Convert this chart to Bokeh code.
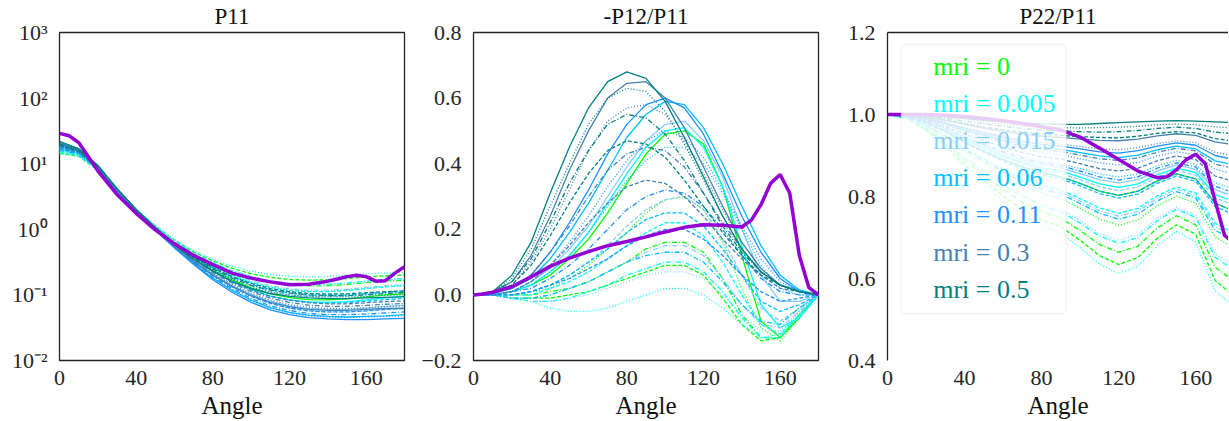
from bokeh.plotting import figure
from bokeh.layouts import row
from bokeh.models import (Range1d, FixedTicker, CustomJSTickFormatter, BoxAnnotation,
                          Label, LinearAxis)
from bokeh.embed import file_html
from bokeh.resources import INLINE

# ---------------- data ----------------
ANGLES = [0, 10, 20, 30, 40, 50, 60, 70, 80, 90, 100, 110, 120, 130, 140, 150, 160, 170, 180]
PURPLE_ANGLES = [0, 5, 10, 20, 30, 40, 50, 60, 70, 80, 90, 100, 110, 120, 130, 140, 145, 150,
                 155, 160, 165, 170, 175, 180]

MRI_LABELS = ["mri = 0", "mri = 0.005", "mri = 0.015", "mri = 0.06", "mri = 0.11",
              "mri = 0.3", "mri = 0.5"]
MRI_COLORS = ["lime", "cyan", "lightskyblue", "deepskyblue", "dodgerblue", "steelblue", "teal"]
# each mri has 4 cases: solid, dotted, dashdot, dashed
CASE_DASHES = ["solid", "1 2", "5 2 1 2", "4 2"]

TITLES = ["P11", "-P12/P11", "P22/P11"]
X_LABEL = "Angle"
X_TICKS = [0, 40, 80, 120, 160]
P11_TICKS = [0.01, 0.1, 1, 10, 100, 1000]
P12_TICKS = [-0.2, 0.0, 0.2, 0.4, 0.6, 0.8]
P22_TICKS = [0.4, 0.6, 0.8, 1.0, 1.2]

# ---- P11 ----
P11_M0 = [
    [17, 14.5, 8.5, 3.9, 1.95, 1.04, 0.59, 0.36, 0.24, 0.17, 0.128, 0.104, 0.091, 0.085, 0.084, 0.087, 0.093, 0.1, 0.104],
    [16, 14, 8.3, 3.9, 1.97, 1.07, 0.62, 0.39, 0.27, 0.2, 0.157, 0.132, 0.119, 0.113, 0.113, 0.118, 0.126, 0.134, 0.139],
    [15, 13.5, 8.1, 3.9, 2.0, 1.1, 0.65, 0.42, 0.3, 0.225, 0.18, 0.155, 0.142, 0.137, 0.138, 0.144, 0.154, 0.163, 0.168],
    [14.5, 13, 8.0, 3.9, 2.0, 1.12, 0.68, 0.45, 0.33, 0.255, 0.21, 0.185, 0.172, 0.168, 0.17, 0.177, 0.187, 0.196, 0.2],
]
P11_M005 = [
    [17, 14.5, 8.5, 3.9, 1.94, 1.03, 0.58, 0.35, 0.23, 0.16, 0.12, 0.096, 0.084, 0.078, 0.077, 0.079, 0.084, 0.09, 0.094],
    [14, 13, 7.9, 3.9, 2.02, 1.13, 0.7, 0.47, 0.35, 0.275, 0.23, 0.205, 0.192, 0.188, 0.19, 0.198, 0.208, 0.215, 0.22],
    [15, 13.5, 8.1, 3.9, 2.0, 1.1, 0.66, 0.43, 0.31, 0.235, 0.19, 0.163, 0.15, 0.145, 0.146, 0.152, 0.162, 0.172, 0.178],
    [16, 14, 8.3, 3.9, 1.97, 1.07, 0.62, 0.39, 0.27, 0.2, 0.155, 0.13, 0.117, 0.112, 0.112, 0.117, 0.125, 0.133, 0.138],
]
P11_M015 = [
    [18, 15, 8.7, 3.9, 1.93, 1.01, 0.56, 0.33, 0.21, 0.14, 0.102, 0.08, 0.068, 0.062, 0.06, 0.06, 0.063, 0.067, 0.07],
    [15, 13.5, 8.1, 3.9, 2.0, 1.1, 0.66, 0.43, 0.31, 0.235, 0.19, 0.163, 0.148, 0.142, 0.142, 0.148, 0.158, 0.168, 0.175],
    [16, 14, 8.3, 3.9, 1.98, 1.08, 0.63, 0.40, 0.28, 0.21, 0.165, 0.138, 0.124, 0.118, 0.118, 0.122, 0.13, 0.138, 0.143],
    [17, 14.5, 8.5, 3.9, 1.96, 1.05, 0.6, 0.37, 0.25, 0.18, 0.138, 0.113, 0.1, 0.094, 0.093, 0.096, 0.102, 0.108, 0.112],
]
P11_M06 = [
    [19, 15.5, 8.9, 3.9, 1.9, 0.98, 0.53, 0.30, 0.18, 0.118, 0.083, 0.064, 0.054, 0.049, 0.047, 0.046, 0.047, 0.048, 0.05],
    [18, 15, 8.7, 3.9, 1.93, 1.0, 0.55, 0.32, 0.2, 0.132, 0.095, 0.074, 0.063, 0.057, 0.055, 0.055, 0.057, 0.06, 0.062],
    [16, 14, 8.3, 3.9, 1.97, 1.06, 0.61, 0.38, 0.26, 0.19, 0.145, 0.12, 0.107, 0.1, 0.098, 0.1, 0.105, 0.11, 0.115],
    [17, 14.5, 8.5, 3.9, 1.95, 1.03, 0.58, 0.35, 0.23, 0.16, 0.118, 0.095, 0.083, 0.077, 0.075, 0.076, 0.08, 0.085, 0.088],
]
P11_M11 = [
    [20, 16, 9.0, 3.9, 1.9, 0.97, 0.52, 0.29, 0.17, 0.11, 0.077, 0.059, 0.05, 0.045, 0.043, 0.042, 0.042, 0.043, 0.044],
    [19, 15.5, 8.9, 3.9, 1.9, 0.98, 0.53, 0.30, 0.18, 0.117, 0.082, 0.063, 0.053, 0.048, 0.046, 0.045, 0.046, 0.047, 0.048],
    [18, 15, 8.7, 3.9, 1.92, 1.0, 0.54, 0.31, 0.19, 0.125, 0.088, 0.068, 0.058, 0.052, 0.05, 0.05, 0.051, 0.053, 0.055],
    [17, 14.5, 8.5, 3.9, 1.94, 1.01, 0.56, 0.32, 0.2, 0.133, 0.095, 0.074, 0.063, 0.057, 0.055, 0.055, 0.057, 0.06, 0.062],
]
P11_M3 = [
    [21, 16.5, 9.2, 4.0, 1.95, 1.0, 0.55, 0.32, 0.2, 0.135, 0.098, 0.077, 0.066, 0.06, 0.058, 0.058, 0.06, 0.062, 0.063],
    [20, 16, 9.1, 4.0, 1.95, 1.02, 0.56, 0.33, 0.21, 0.145, 0.105, 0.083, 0.071, 0.065, 0.062, 0.062, 0.064, 0.066, 0.068],
    [19, 15.5, 9.0, 4.0, 1.97, 1.03, 0.57, 0.34, 0.22, 0.152, 0.112, 0.089, 0.077, 0.07, 0.067, 0.067, 0.069, 0.072, 0.074],
    [18, 15, 8.8, 4.0, 1.98, 1.04, 0.58, 0.35, 0.23, 0.16, 0.12, 0.096, 0.083, 0.076, 0.073, 0.073, 0.076, 0.079, 0.081],
]
P11_M5 = [
    [22, 17, 9.5, 4.2, 2.0, 1.05, 0.58, 0.35, 0.23, 0.16, 0.125, 0.105, 0.095, 0.09, 0.088, 0.088, 0.09, 0.092, 0.094],
    [21, 16.5, 9.3, 4.1, 2.0, 1.05, 0.59, 0.36, 0.24, 0.17, 0.13, 0.11, 0.10, 0.095, 0.093, 0.093, 0.095, 0.098, 0.10],
    [20, 16, 9.2, 4.1, 2.0, 1.06, 0.60, 0.37, 0.25, 0.18, 0.14, 0.118, 0.107, 0.10, 0.098, 0.098, 0.10, 0.105, 0.108],
    [19, 15.5, 9.0, 4.1, 2.0, 1.07, 0.61, 0.38, 0.26, 0.19, 0.15, 0.125, 0.112, 0.105, 0.103, 0.104, 0.108, 0.112, 0.115],
]
P11_PURPLE = [29, 26.7, 21, 7.8, 3.4, 1.75, 0.98, 0.6, 0.4, 0.29, 0.215, 0.18, 0.158, 0.143, 0.145,
              0.162, 0.175, 0.19, 0.2, 0.19, 0.162, 0.165, 0.215, 0.27]

# ---- -P12/P11 ----
P12_M0 = [
    [0, 0, 0.01, 0.03, 0.06, 0.11, 0.17, 0.25, 0.34, 0.43, 0.49, 0.50, 0.46, 0.33, 0.12, -0.08, -0.13, -0.07, 0],
    [0, 0, 0, 0.01, 0.02, 0.05, 0.09, 0.14, 0.19, 0.25, 0.29, 0.30, 0.26, 0.16, 0.02, -0.10, -0.14, -0.07, 0],
    [0, 0, 0, 0, 0.01, 0.02, 0.04, 0.07, 0.10, 0.14, 0.16, 0.16, 0.13, 0.05, -0.06, -0.13, -0.13, -0.06, 0],
    [0, 0, -0.01, -0.01, -0.01, 0, 0.01, 0.03, 0.05, 0.07, 0.09, 0.09, 0.06, -0.01, -0.09, -0.14, -0.13, -0.06, 0],
]
P12_M005 = [
    [0, 0, 0.01, 0.03, 0.07, 0.12, 0.19, 0.28, 0.37, 0.45, 0.50, 0.51, 0.45, 0.33, 0.15, -0.03, -0.1, -0.07, 0],
    [0, 0, -0.01, -0.02, -0.04, -0.05, -0.05, -0.04, -0.02, 0.0, 0.02, 0.02, 0.0, -0.04, -0.09, -0.13, -0.12, -0.05, 0],
    [0, 0, -0.01, -0.02, -0.02, -0.01, 0.01, 0.03, 0.06, 0.08, 0.10, 0.10, 0.07, 0.01, -0.07, -0.13, -0.13, -0.06, 0],
    [0, 0, 0, 0.0, 0.02, 0.04, 0.07, 0.11, 0.15, 0.19, 0.22, 0.22, 0.18, 0.10, 0.0, -0.09, -0.12, -0.06, 0],
]
P12_M015 = [
    [0, 0, 0.01, 0.04, 0.08, 0.14, 0.21, 0.30, 0.39, 0.47, 0.52, 0.53, 0.47, 0.36, 0.20, 0.06, -0.02, -0.02, 0],
    [0, 0, -0.01, -0.02, -0.02, -0.01, 0.0, 0.02, 0.04, 0.06, 0.07, 0.07, 0.05, 0.0, -0.06, -0.11, -0.11, -0.05, 0],
    [0, 0, -0.01, -0.01, 0, 0.02, 0.04, 0.07, 0.10, 0.13, 0.15, 0.15, 0.12, 0.05, -0.03, -0.09, -0.10, -0.05, 0],
    [0, 0, 0, 0.01, 0.03, 0.06, 0.10, 0.15, 0.21, 0.26, 0.29, 0.30, 0.26, 0.17, 0.06, -0.04, -0.08, -0.04, 0],
]
P12_M06 = [
    [0, 0.005, 0.02, 0.05, 0.11, 0.19, 0.28, 0.38, 0.48, 0.55, 0.59, 0.58, 0.51, 0.40, 0.27, 0.15, 0.06, 0.015, 0],
    [0, 0, 0.01, 0.03, 0.07, 0.12, 0.19, 0.27, 0.35, 0.41, 0.45, 0.45, 0.40, 0.31, 0.20, 0.09, 0.02, 0, 0],
    [0, 0, -0.01, -0.01, 0, 0.02, 0.04, 0.07, 0.10, 0.12, 0.13, 0.13, 0.10, 0.04, -0.03, -0.08, -0.09, -0.04, 0],
    [0, 0, 0, 0.01, 0.03, 0.06, 0.10, 0.14, 0.19, 0.23, 0.25, 0.25, 0.21, 0.14, 0.06, -0.02, -0.05, -0.03, 0],
]
P12_M11 = [
    [0, 0.005, 0.02, 0.06, 0.13, 0.22, 0.32, 0.43, 0.52, 0.58, 0.60, 0.57, 0.49, 0.37, 0.24, 0.13, 0.05, 0.01, 0],
    [0, 0, 0.01, 0.04, 0.09, 0.16, 0.24, 0.33, 0.41, 0.47, 0.50, 0.48, 0.42, 0.32, 0.21, 0.11, 0.04, 0.01, 0],
    [0, 0, 0.01, 0.02, 0.05, 0.09, 0.14, 0.20, 0.26, 0.30, 0.32, 0.31, 0.27, 0.20, 0.12, 0.05, 0.01, 0, 0],
    [0, 0, 0, 0.01, 0.03, 0.05, 0.08, 0.11, 0.15, 0.18, 0.20, 0.20, 0.17, 0.12, 0.06, 0.01, -0.02, -0.01, 0],
]
P12_M3 = [
    [0, 0.01, 0.04, 0.12, 0.24, 0.38, 0.50, 0.60, 0.645, 0.65, 0.60, 0.51, 0.39, 0.27, 0.16, 0.08, 0.03, 0.01, 0],
    [0, 0.01, 0.03, 0.10, 0.20, 0.32, 0.44, 0.53, 0.57, 0.58, 0.55, 0.47, 0.37, 0.26, 0.16, 0.08, 0.03, 0.01, 0],
    [0, 0.01, 0.02, 0.06, 0.13, 0.21, 0.30, 0.38, 0.43, 0.45, 0.44, 0.39, 0.31, 0.22, 0.14, 0.07, 0.03, 0.01, 0],
    [0, 0, 0.01, 0.04, 0.09, 0.15, 0.22, 0.28, 0.33, 0.35, 0.34, 0.30, 0.24, 0.17, 0.11, 0.06, 0.02, 0.01, 0],
]
P12_M5 = [
    [0, 0.01, 0.06, 0.16, 0.31, 0.45, 0.57, 0.65, 0.68, 0.66, 0.59, 0.48, 0.36, 0.24, 0.14, 0.07, 0.03, 0.01, 0],
    [0, 0.01, 0.05, 0.14, 0.27, 0.40, 0.52, 0.60, 0.63, 0.62, 0.56, 0.46, 0.35, 0.24, 0.14, 0.07, 0.03, 0.01, 0],
    [0, 0.01, 0.04, 0.11, 0.22, 0.34, 0.44, 0.52, 0.55, 0.54, 0.49, 0.41, 0.31, 0.21, 0.13, 0.07, 0.03, 0.01, 0],
    [0, 0.01, 0.03, 0.09, 0.18, 0.28, 0.37, 0.44, 0.47, 0.46, 0.42, 0.35, 0.27, 0.19, 0.12, 0.06, 0.03, 0.01, 0],
]
P12_PURPLE = [0, 0.003, 0.008, 0.025, 0.055, 0.087, 0.112, 0.132, 0.15, 0.163, 0.177, 0.192, 0.206,
              0.214, 0.212, 0.207, 0.228, 0.275, 0.34, 0.367, 0.31, 0.12, 0.022, 0]

# ---- P22/P11 ----
P22_M0 = [
    [1, .995, .980, .959, .932, .911, .890, .872, .858, .848, .832, .813, .803, .813, .838, .855, .843, .784, .764],
    [1, .993, .972, .944, .908, .880, .851, .827, .808, .795, .771, .745, .730, .743, .777, .801, .784, .702, .674],
    [1, .991, .965, .931, .887, .852, .817, .786, .763, .747, .717, .683, .664, .679, .723, .753, .731, .628, .593],
    [1, .991, .962, .925, .877, .839, .802, .768, .743, .726, .693, .656, .634, .651, .698, .731, .708, .595, .557],
]
P22_M005 = [
    [1, .996, .982, .963, .938, .919, .899, .883, .870, .862, .847, .831, .822, .831, .853, .869, .858, .805, .787],
    [1, .99, .96, .92, .87, .83, .79, .755, .728, .71, .675, .635, .612, .63, .68, .715, .69, .57, .53],
    [1, .992, .968, .935, .894, .861, .828, .800, .778, .763, .735, .704, .686, .700, .741, .769, .749, .652, .620],
    [1, .994, .975, .950, .918, .892, .867, .845, .828, .816, .795, .772, .759, .771, .802, .823, .808, .735, .710],
]
P22_M015 = [
    [1, .996, .983, .965, .942, .924, .905, .889, .877, .870, .856, .841, .833, .841, .862, .877, .866, .817, .800],
    [1, .992, .968, .937, .896, .864, .832, .804, .783, .769, .741, .710, .693, .707, .747, .774, .755, .661, .629],
    [1, .994, .974, .949, .916, .889, .863, .840, .823, .811, .789, .765, .752, .764, .796, .818, .802, .727, .701],
    [1, .996, .981, .961, .936, .916, .896, .878, .865, .856, .841, .824, .814, .824, .847, .864, .852, .797, .778],
]
P22_M06 = [
    [1, .998, .989, .978, .962, .950, .938, .928, .920, .915, .907, .899, .895, .901, .914, .923, .916, .887, .877],
    [1, .996, .984, .968, .947, .930, .913, .898, .887, .880, .868, .855, .848, .855, .875, .888, .878, .834, .818],
    [1, .994, .974, .947, .913, .886, .859, .836, .818, .806, .783, .759, .745, .757, .789, .812, .796, .718, .692],
    [1, .995, .979, .958, .930, .908, .886, .867, .853, .843, .826, .807, .796, .806, .832, .850, .837, .776, .755],
]
P22_M11 = [
    [1, .998, .990, .980, .966, .955, .944, .934, .927, .923, .916, .909, .906, .912, .923, .931, .925, .900, .890],
    [1, .997, .987, .974, .956, .942, .928, .916, .907, .902, .892, .882, .877, .883, .899, .909, .902, .867, .854],
    [1, .996, .984, .967, .944, .927, .909, .894, .882, .875, .862, .848, .840, .848, .869, .882, .872, .825, .809],
    [1, .995, .980, .959, .932, .911, .890, .872, .858, .848, .832, .813, .803, .813, .838, .855, .843, .784, .764],
]
P22_M3 = [
    [1, .999, .993, .986, .976, .967, .959, .952, .947, .944, .940, .937, .936, .940, .948, .953, .949, .933, .926],
    [1, .998, .991, .982, .968, .958, .947, .939, .932, .928, .922, .916, .914, .919, .929, .936, .931, .908, .899],
    [1, .998, .989, .976, .960, .947, .934, .923, .915, .910, .901, .892, .888, .894, .908, .918, .911, .879, .868],
    [1, .997, .986, .971, .952, .936, .921, .907, .897, .891, .880, .868, .862, .869, .887, .899, .890, .850, .836],
]
P22_M5 = [
    [1, 1, .998, .995, .990, .986, .982, .979, .977, .976, .976, .978, .980, .982, .984, .985, .984, .982, .980],
    [1, 1.0, .997, .993, .986, .981, .976, .972, .970, .968, .967, .968, .969, .971, .975, .977, .975, .970, .967],
    [1, .999, .996, .991, .983, .977, .971, .966, .962, .960, .958, .957, .958, .961, .966, .969, .966, .957, .953],
    [1, .999, .994, .988, .978, .970, .963, .957, .952, .949, .946, .944, .943, .947, .954, .958, .955, .941, .935],
]
P22_PURPLE = [1.0, 1.0, 1.0, 1.0, 0.998, 0.995, 0.99, 0.985, 0.978, 0.97, 0.962, 0.945, 0.918, 0.89,
              0.862, 0.846, 0.848, 0.865, 0.89, 0.903, 0.88, 0.79, 0.705, 0.685]

P11_ALL = [P11_M0, P11_M005, P11_M015, P11_M06, P11_M11, P11_M3, P11_M5]
P12_ALL = [P12_M0, P12_M005, P12_M015, P12_M06, P12_M11, P12_M3, P12_M5]
P22_ALL = [P22_M0, P22_M005, P22_M015, P22_M06, P22_M11, P22_M3, P22_M5]

# ---------------- styling / layout ----------------
FONT = "Liberation Serif"
DARK = "#262626"
PURPLE = "darkviolet"


def make_fig(title, y_range, y_type="linear", x_end=180, fw=345, right=10, top_line=False):
    p = figure(frame_width=fw, frame_height=328, x_range=Range1d(0, x_end), y_range=y_range,
               y_axis_type=y_type, output_backend="svg", toolbar_location=None,
               min_border_left=59, min_border_right=right, min_border_top=32,
               min_border_bottom=61)
    p.grid.visible = False
    p.outline_line_color = DARK
    p.outline_line_width = 1.3
    p.background_fill_color = "white"
    p.border_fill_color = "white"
    for ax in p.axis:
        ax.axis_line_color = None
        ax.major_tick_line_color = None
        ax.minor_tick_line_color = None
        ax.major_label_text_font = FONT
        ax.major_label_text_font_size = "22px"
        ax.major_label_text_color = DARK
    p.xaxis.ticker = FixedTicker(ticks=X_TICKS)
    p.xaxis.major_label_standoff = 4
    p.yaxis.major_label_standoff = 6
    p.xaxis.axis_label = X_LABEL
    p.xaxis.axis_label_text_font = FONT
    p.xaxis.axis_label_text_font_size = "25px"
    p.xaxis.axis_label_text_font_style = "normal"
    p.xaxis.axis_label_text_color = "#111111"
    p.xaxis.axis_label_standoff = 4
    # title drawn as the label of an empty axis above the frame
    top_ax = LinearAxis(ticker=FixedTicker(ticks=[]), major_tick_line_color=None,
                        minor_tick_line_color=None, major_label_standoff=0,
                        axis_line_color=DARK if top_line else None, axis_line_width=1.3,
                        axis_label=title, axis_label_text_font=FONT,
                        axis_label_text_font_size="23px", axis_label_text_font_style="normal",
                        axis_label_text_color="#111111", axis_label_standoff=4)
    p.add_layout(top_ax, "above")
    return p


def draw_cases(p, all_vals):
    for color, cases in zip(MRI_COLORS, all_vals):
        for dash, vals in zip(CASE_DASHES, cases):
            p.line(ANGLES, vals, line_color=color, line_width=1.3, line_dash=dash)


one_dec = CustomJSTickFormatter(code="""
    return tick < -1e-9 ? "\u2212" + (-tick).toFixed(1) : Math.abs(tick).toFixed(1);
""")

# Panel 1: P11 (log)
p1 = make_fig(TITLES[0], Range1d(0.01, 1000), y_type="log")
p1.yaxis.ticker = FixedTicker(ticks=P11_TICKS)
p1.yaxis.formatter = CustomJSTickFormatter(code="""
    const e = Math.round(Math.log10(tick));
    const sup = {"-": "\u207b", "0": "\u2070", "1": "\u00b9", "2": "\u00b2", "3": "\u00b3"};
    return "10" + String(e).split("").map(c => sup[c]).join("");
""")
draw_cases(p1, P11_ALL)
p1.line(PURPLE_ANGLES, P11_PURPLE, line_color=PURPLE, line_width=3.5)

# Panel 2: -P12/P11
p2 = make_fig(TITLES[1], Range1d(-0.2, 0.8))
p2.yaxis.ticker = FixedTicker(ticks=P12_TICKS)
p2.yaxis.formatter = one_dec
draw_cases(p2, P12_ALL)
p2.line(PURPLE_ANGLES, P12_PURPLE, line_color=PURPLE, line_width=3.5)

# Panel 3: P22/P11 (right side cut by the window)
p3 = make_fig(TITLES[2], Range1d(0.4, 1.2), x_end=177, fw=341, right=0, top_line=True)
p3.outline_line_color = None
p3.yaxis.ticker = FixedTicker(ticks=P22_TICKS)
p3.yaxis.formatter = CustomJSTickFormatter(code="return tick.toFixed(1);")
for ax in (p3.xaxis[0], p3.yaxis[0]):
    ax.axis_line_color = DARK
    ax.axis_line_width = 1.3
draw_cases(p3, P22_ALL)
p3.line(PURPLE_ANGLES, P22_PURPLE, line_color=PURPLE, line_width=3.5)

# legend (text-only, coloured labels) with a translucent frame
p3.add_layout(BoxAnnotation(left=7.1, right=92.8, top=1.1707, bottom=0.5146,
                            fill_color="white", fill_alpha=0.8, line_color="#cccccc",
                            line_width=1, border_radius=4))
for i, (lab, col) in enumerate(zip(MRI_LABELS, MRI_COLORS)):
    p3.add_layout(Label(x=23.7, y=1.1178 - 0.0907 * i, text=lab, text_color=col,
                        text_font=FONT, text_font_size="26px", text_baseline="middle",
                        text_align="left"))

layout = row(p1, p2, p3)
open("out.html", "w").write(file_html(layout, INLINE))
